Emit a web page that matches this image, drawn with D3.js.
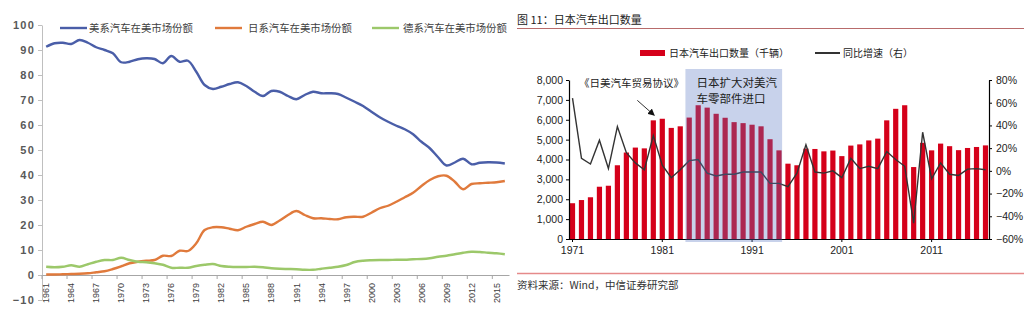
<!DOCTYPE html>
<html><head><meta charset="utf-8">
<script src="https://cdn.jsdelivr.net/npm/d3@7"></script>
<style>
body{margin:0;background:#fff;}
svg{display:block;}
text{font-family:"Liberation Sans","Noto Sans CJK SC",sans-serif;}
.cjk{font-family:"Noto Sans CJK SC","Liberation Sans",sans-serif;}
</style></head><body>
<script>
// ---------- Left chart data ----------
const yearsL = [1961,1962,1963,1964,1965,1966,1967,1968,1969,1970,1971,1972,1973,1974,1975,1976,1977,1978,1979,1980,1981,1982,1983,1984,1985,1986,1987,1988,1989,1990,1991,1992,1993,1994,1995,1996,1997,1998,1999,2000,2001,2002,2003,2004,2005,2006,2007,2008,2009,2010,2011,2012,2013,2014,2015,2016];
const usShare = [91.3,92.7,92.9,92.4,94.0,92.9,91.1,90.0,88.7,85.1,85.3,86.3,86.7,86.4,84.7,87.6,85.3,85.7,81.3,76.0,74.4,75.3,76.4,77.1,75.6,73.3,71.6,73.6,73.3,71.6,70.3,72.0,73.3,72.7,72.7,72.4,70.9,69.3,67.6,65.3,63.1,61.3,59.7,58.3,56.3,53.3,50.7,47.1,43.8,45.0,46.5,44.3,44.9,45.1,45.0,44.6];
const jpShare = [0.2,0.2,0.3,0.4,0.5,0.7,1.1,1.5,2.4,3.5,4.7,5.3,5.7,6.0,7.7,7.6,9.7,9.6,12.7,18.0,19.1,19.1,18.5,17.9,19.3,20.4,21.3,20.0,21.8,24.0,25.6,24.0,22.7,22.7,22.4,22.3,23.1,23.3,23.3,24.9,26.7,27.7,29.3,31.1,32.9,35.6,38.0,39.5,39.7,37.3,34.3,36.4,36.7,36.9,37.1,37.6];
const deShare = [3.3,3.1,3.3,3.9,3.3,4.3,5.3,6.0,6.0,6.9,6.0,5.3,5.1,4.7,4.1,2.9,2.9,2.9,3.6,4.1,4.4,3.6,3.3,3.2,3.2,3.3,3.1,2.7,2.5,2.4,2.3,2.1,2.1,2.5,2.9,3.3,4.0,5.2,5.7,5.9,6.0,6.0,6.1,6.1,6.3,6.4,6.7,7.3,7.7,8.3,8.9,9.3,9.2,8.9,8.7,8.3];
const seriesNamesL = ["美系汽车在美市场份额","日系汽车在美市场份额","德系汽车在美市场份额"];
const ticksL = [-10,0,10,20,30,40,50,60,70,80,90,100];
const xLabelsL = [1961,1964,1967,1970,1973,1976,1979,1982,1985,1988,1991,1994,1997,2000,2003,2006,2009,2012,2015];

// ---------- Right chart data ----------
const yearsR = [1971,1972,1973,1974,1975,1976,1977,1978,1979,1980,1981,1982,1983,1984,1985,1986,1987,1988,1989,1990,1991,1992,1993,1994,1995,1996,1997,1998,1999,2000,2001,2002,2003,2004,2005,2006,2007,2008,2009,2010,2011,2012,2013,2014,2015,2016,2017];
const exportsK = [1800,1960,2100,2630,2680,3710,4350,4600,4560,5970,6050,5590,5670,6110,6730,6610,6300,6100,5880,5830,5750,5670,5020,4460,3790,3710,4550,4530,4410,4450,4170,4700,4760,4960,5050,5970,6550,6730,3620,4840,4460,4800,4670,4470,4580,4630,4710];
const yoyPct = [64,11,6,27,2,39,16,7,1,31,5,-6,1,9,10,-2,-4.5,-3,-3,-1,-1,-1,-11,-11,-14,-2,23,-1,-2,0,-6,11,2,4,2,17,10,4,-46,34,-7,7,-3,-4,1.5,2,1];
const ticksRL = [0,1000,2000,3000,4000,5000,6000,7000,8000];
const ticksRR = [-60,-40,-20,0,20,40,60,80];
const xLabelsR = [1971,1981,1991,2001,2011];
const shadeYears = [1984,1994];

const svg = d3.select("body").append("svg").attr("width",1024).attr("height",327);

// ================= LEFT CHART =================
const colorsL = ["#4a5ea8","#e07a3c","#9cc86a"];
const xL = d3.scaleBand().domain(yearsL).range([42,509]);
const yL = d3.scaleLinear().domain([-10,100]).range([300,25]);
const gL = svg.append("g");

// y axis
const yAxL = gL.append("g").attr("transform","translate(42,0)")
  .call(d3.axisLeft(yL).tickValues(ticksL).tickSize(4).tickSizeOuter(0).tickPadding(3));
yAxL.select(".domain").attr("stroke","#bfbfbf");
yAxL.selectAll(".tick line").attr("stroke","#bfbfbf");
yAxL.selectAll("text").attr("font-family","DejaVu Sans").attr("font-size",11).attr("font-weight","bold")
  .attr("letter-spacing",1.2).attr("fill","#595959");

// x axis at 0
const xAxL = gL.append("g").attr("transform",`translate(0,${yL(0)})`)
  .call(d3.axisBottom(xL).tickValues(xLabelsL).tickSize(0).tickSizeOuter(0));
xAxL.select(".domain").attr("stroke","#a6a6a6");
xAxL.selectAll("text").attr("transform","rotate(-90)").attr("x",-8).attr("y",0).attr("dy","0.35em")
  .attr("text-anchor","end").attr("font-family","DejaVu Sans").attr("font-size",9).attr("fill","#404040");
gL.append("g").selectAll("line").data(xLabelsL).join("line")
  .attr("x1",d=>xL(d)).attr("x2",d=>xL(d)).attr("y1",yL(0)).attr("y2",yL(0)+4).attr("stroke","#a6a6a6");

// lines
const lineL = d3.line().x((d,i)=>xL(yearsL[i])+xL.bandwidth()/2).y(d=>yL(d)).curve(d3.curveCatmullRom.alpha(0.5));
[usShare,jpShare,deShare].forEach((s,k)=>{
  gL.append("path").datum(s).attr("d",lineL).attr("fill","none").attr("stroke",colorsL[k])
    .attr("stroke-width",2.4).attr("stroke-linejoin","round");
});

// legend
const legL = [[60,89],[215,248],[372,403]];
seriesNamesL.forEach((n,k)=>{
  gL.append("line").attr("x1",legL[k][0]).attr("x2",legL[k][0]+27).attr("y1",28).attr("y2",28)
    .attr("stroke",colorsL[k]).attr("stroke-width",2.4);
  gL.append("text").attr("class","cjk").attr("x",legL[k][1]).attr("y",32).attr("font-size",10.4)
    .attr("fill","#404040").text(n);
});

// ================= RIGHT CHART =================
const gR = svg.append("g");
const red = "#d5001a";
const xR = d3.scaleBand().domain(yearsR).range([569,989]).paddingInner(0.42).paddingOuter(0.1);
const yR = d3.scaleLinear().domain([0,8000]).range([239,80]);
const yR2 = d3.scaleLinear().domain([-60,80]).range([239,80]);

// title
gR.append("text").attr("class","cjk").attr("x",517).attr("y",24).attr("font-size",11).attr("fill","#222")
  .text("图 11：日本汽车出口数量");
gR.append("line").attr("x1",517).attr("x2",1024).attr("y1",28.5).attr("y2",28.5).attr("stroke","#b86b6b").attr("stroke-width",1);

// legend
gR.append("rect").attr("x",640).attr("y",50).attr("width",25).attr("height",6).attr("fill",red);
gR.append("text").attr("class","cjk").attr("x",669).attr("y",57).attr("font-size",10).attr("fill","#222")
  .text("日本汽车出口数量（千辆）");
gR.append("line").attr("x1",815).attr("x2",840).attr("y1",53).attr("y2",53).attr("stroke","#333").attr("stroke-width",2);
gR.append("text").attr("class","cjk").attr("x",843).attr("y",57).attr("font-size",10).attr("fill","#222")
  .text("同比增速（右）");

// bars
gR.append("g").selectAll("rect").data(exportsK).join("rect")
  .attr("x",(d,i)=>xR(yearsR[i])).attr("width",xR.bandwidth())
  .attr("y",d=>yR(d)).attr("height",d=>yR(0)-yR(d)).attr("fill",red);

// growth line
const lineR = d3.line().x((d,i)=>xR(yearsR[i])+xR.bandwidth()/2).y(d=>yR2(d));
gR.append("path").datum(yoyPct).attr("d",lineR).attr("fill","none").attr("stroke","#333").attr("stroke-width",1.4);

// axes
const axRL = gR.append("g").attr("transform","translate(569,0)")
  .call(d3.axisLeft(yR).tickValues(ticksRL).tickSize(3).tickSizeOuter(0).tickPadding(3).tickFormat(d3.format(",")));
const axRR = gR.append("g").attr("transform","translate(989,0)")
  .call(d3.axisRight(yR2).tickValues(ticksRR).tickSize(3).tickSizeOuter(0).tickPadding(4).tickFormat(d=>d3.format("d")(d)+"%"));
const axRB = gR.append("g").attr("transform",`translate(0,${yR(0)})`)
  .call(d3.axisBottom(xR).tickValues(xLabelsR).tickSize(3).tickSizeOuter(0).tickPadding(5));
[axRL,axRR,axRB].forEach(a=>{
  a.select(".domain").attr("stroke","#000").attr("stroke-width",1.2);
  a.selectAll(".tick line").attr("stroke","#000");
  a.selectAll("text").attr("font-size",10.5).attr("fill","#222");
});
axRB.select(".domain").attr("d","M569,0.5H989");

// shaded period
const sx0 = xR(shadeYears[0]) - 1.2;
const sx1 = xR(shadeYears[1]) + xR.bandwidth() + 0.5;
gR.append("rect").attr("x",sx0).attr("y",69).attr("width",sx1-sx0).attr("height",173)
  .attr("fill","rgb(88,119,194)").attr("fill-opacity",0.33);
gR.append("text").attr("class","cjk").attr("x",sx0+11).attr("y",87).attr("font-size",11.5).attr("fill","#222").text("日本扩大对美汽");
gR.append("text").attr("class","cjk").attr("x",sx0+11).attr("y",103).attr("font-size",11.5).attr("fill","#222").text("车零部件进口");

// agreement annotation
gR.append("text").attr("class","cjk").attr("x",579).attr("y",87).attr("font-size",10.5).attr("fill","#222").text("《日美汽车贸易协议》");
const tipX = xR(1980)+xR.bandwidth()/2+1, tipY = yR(exportsK[9])-5;
gR.append("defs").append("marker").attr("id","arr").attr("viewBox","0 0 10 10").attr("refX",9).attr("refY",5)
  .attr("markerWidth",7).attr("markerHeight",7).attr("orient","auto")
  .append("path").attr("d","M0,0L10,5L0,10z").attr("fill","#111");
gR.append("line").attr("x1",tipX-17).attr("y1",tipY-15).attr("x2",tipX).attr("y2",tipY)
  .attr("stroke","#333").attr("stroke-width",1).attr("marker-end","url(#arr)");

// bottom rule and source
gR.append("line").attr("x1",517).attr("x2",1024).attr("y1",273.5).attr("y2",273.5).attr("stroke","#e58a8a").attr("stroke-width",1.3);
gR.append("text").attr("class","cjk").attr("x",517).attr("y",289).attr("font-size",10.5).attr("fill","#333")
  .text("资料来源：Wind，中信证券研究部");
</script>
</body></html>
